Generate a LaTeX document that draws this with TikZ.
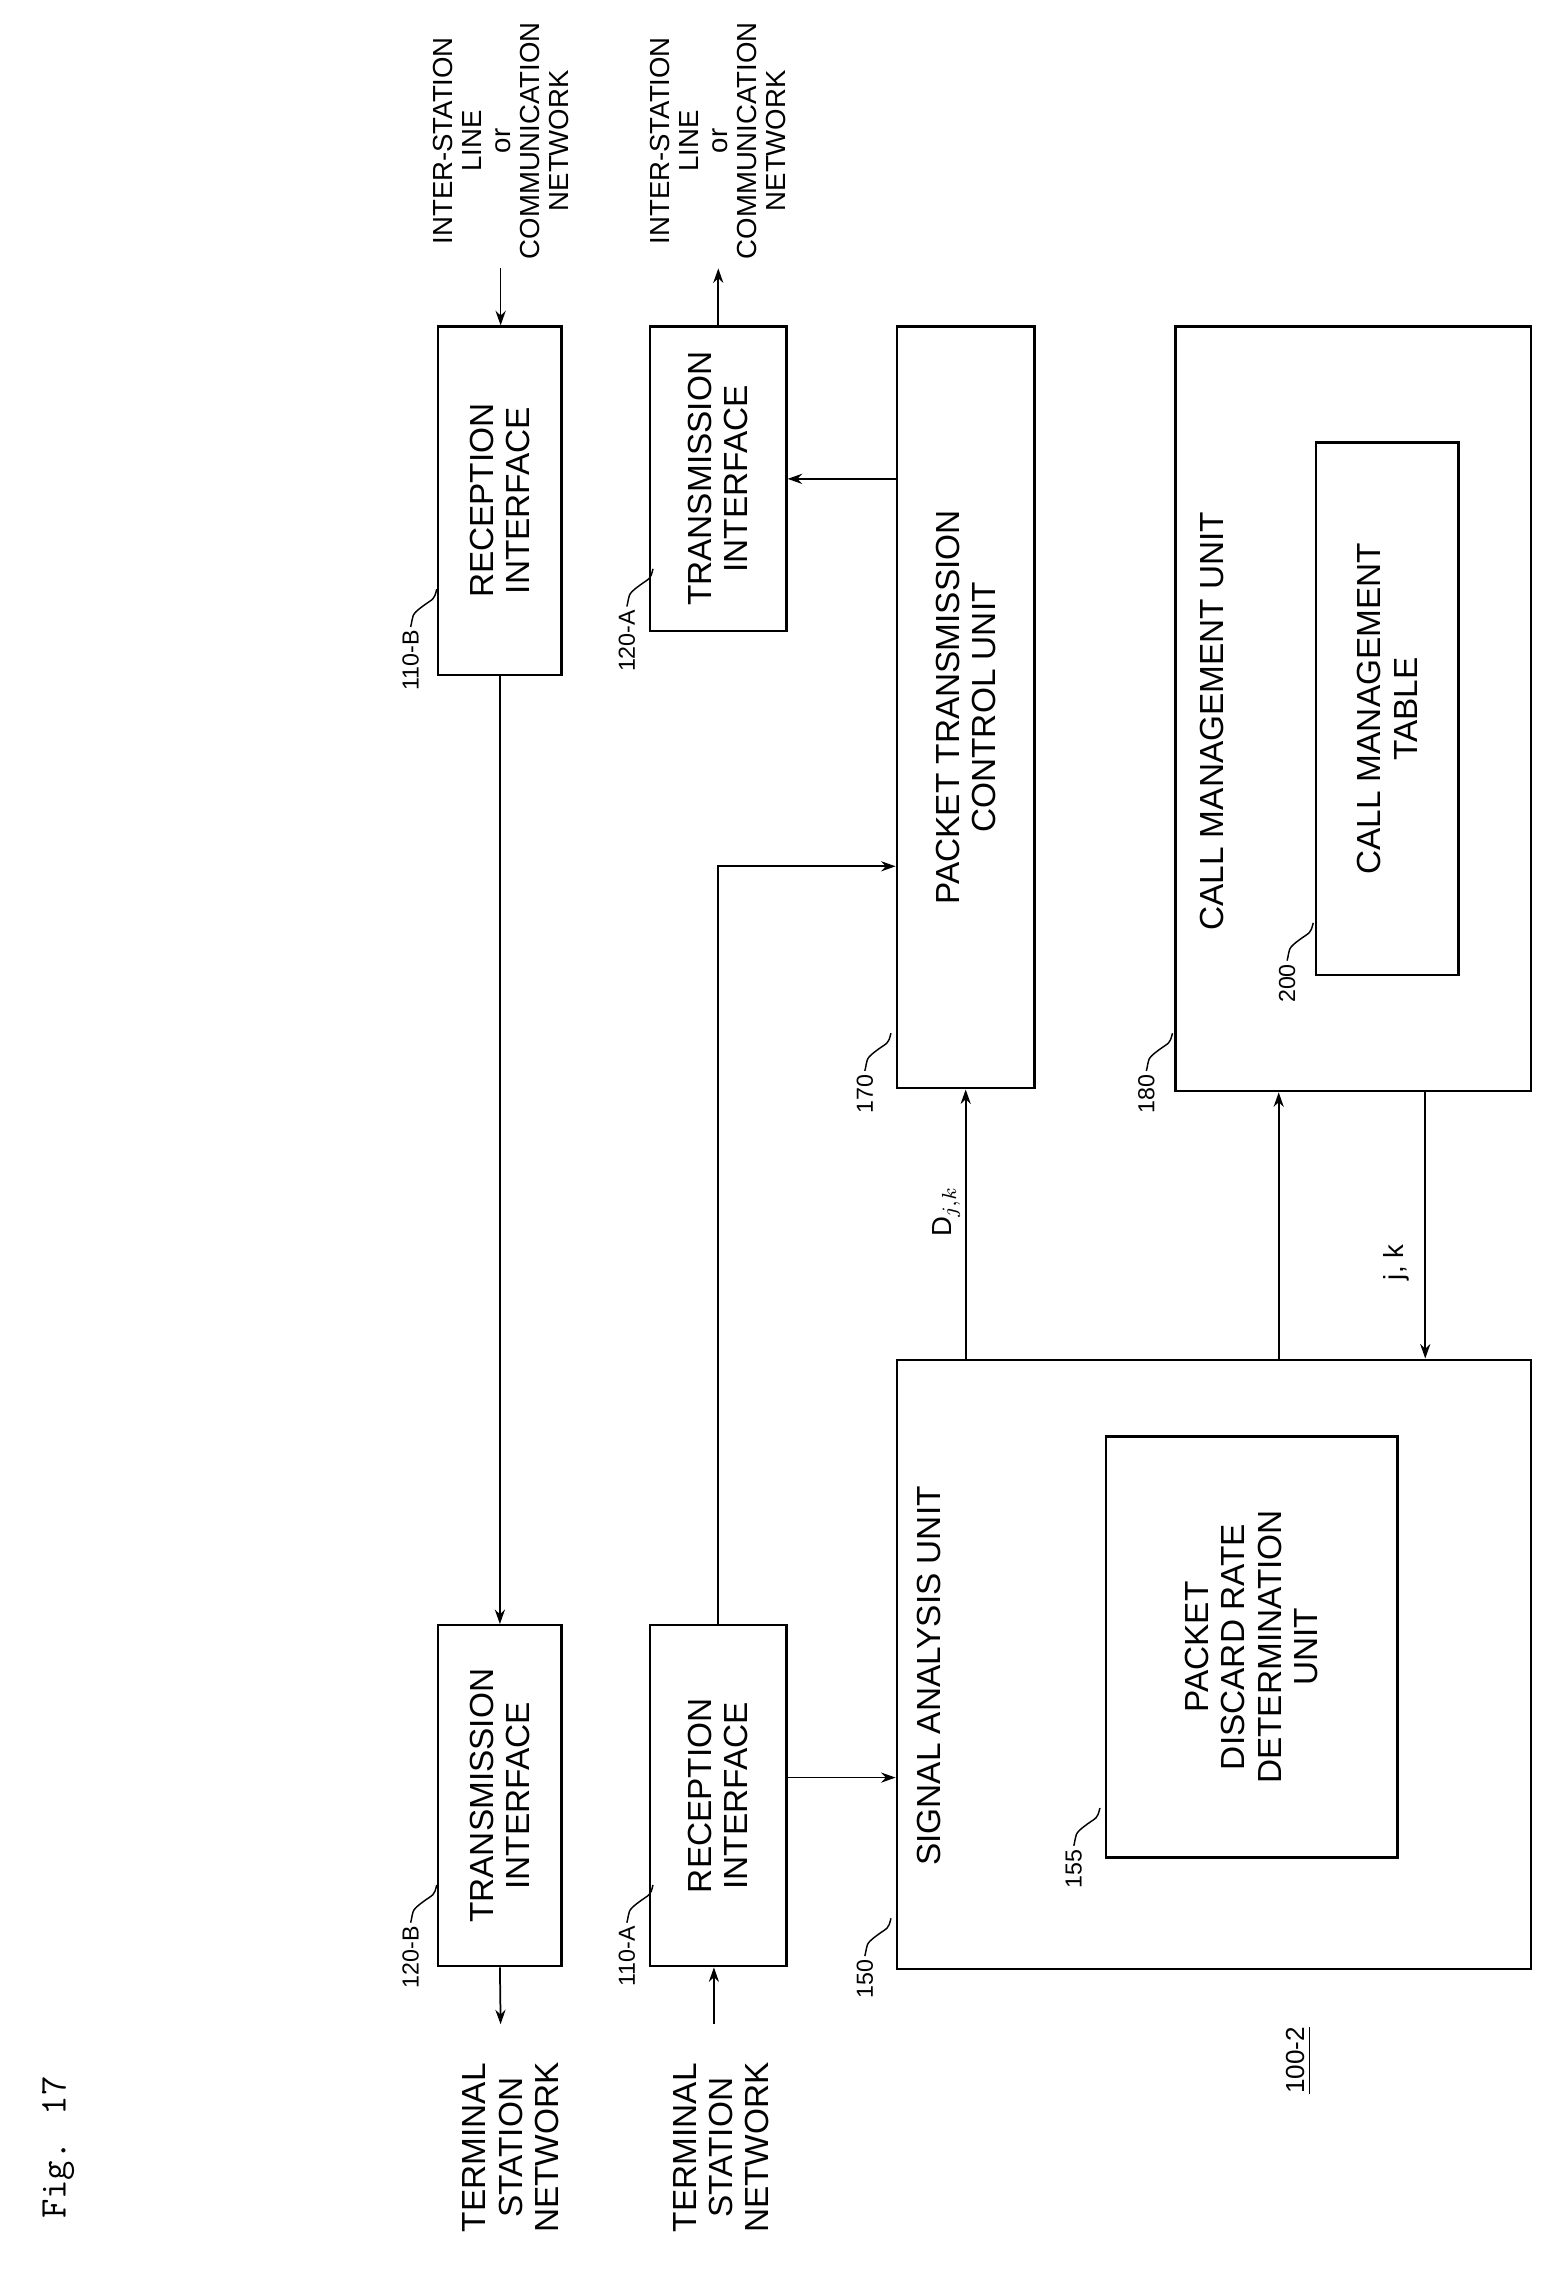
\documentclass[tikz,border=0pt]{standalone}
\usepackage{fontspec}
\setmainfont{Liberation Sans}
\usetikzlibrary{arrows.meta,calc}
\begin{document}
\begin{tikzpicture}[x=0.5pt,y=-0.5pt,
  box/.style={draw,line width=0.8pt,inner sep=0pt},
  txt/.style={rotate=90,align=center,font=\fontsize{11.5}{12.5}\selectfont},
  small/.style={rotate=90,align=center,font=\fontsize{9.5}{10}\selectfont},
  lab/.style={rotate=90,font=\fontsize{8}{9}\selectfont,anchor=east,inner sep=1pt},
  arr/.style={line width=0.6pt,-{Stealth[length=5pt,width=3.5pt]}},
  lead/.style={line width=0.5pt}]
\useasboundingbox (0,0) rectangle (1076,1574);
% boxes
\node[box,minimum width=42.5pt,minimum height=117.5pt] (t120B) at (344.5,1237.5) {};
\node[txt] at (t120B) {TRANSMISSION\\INTERFACE};
\node[box,minimum width=47pt,minimum height=117.5pt] (r110A) at (495,1237.5) {};
\node[txt] at (r110A) {RECEPTION\\INTERFACE};
\node[box,minimum width=218.5pt,minimum height=210pt] (s150) at (836.5,1147) {};
\node[txt] (s150t) at (640,1155) {SIGNAL ANALYSIS UNIT};
\node[box,minimum width=100.5pt,minimum height=145pt] (p155) at (862.5,1135) {};
\node[txt] at (p155) {PACKET\\DISCARD RATE\\DETERMINATION\\UNIT};
\node[box,minimum width=42.5pt,minimum height=120pt] (r110B) at (344.5,345) {};
\node[txt] at (r110B) {RECEPTION\\INTERFACE};
\node[box,minimum width=47pt,minimum height=105pt] (t120A) at (495,330) {};
\node[txt] at (t120A) {TRANSMISSION\\INTERFACE};
\node[box,minimum width=47.5pt,minimum height=262.5pt] (c170) at (665.5,487.5) {};
\node[txt] at (c170) {PACKET TRANSMISSION\\CONTROL UNIT};
\node[box,minimum width=122.5pt,minimum height=263.5pt] (m180) at (932.5,488.5) {};
\node[txt] (m180t) at (835,497) {CALL MANAGEMENT UNIT};
\node[box,minimum width=49pt,minimum height=183.5pt] (t200) at (956,488.5) {};
\node[txt] at (t200) {CALL MANAGEMENT\\TABLE};
% external texts
\node[txt] (tn1) at (352,1480) {TERMINAL\\STATION\\NETWORK};
\node[txt] (tn2) at (497,1480) {TERMINAL\\STATION\\NETWORK};
\node[small] (in1) at (345,97) {INTER-STATION\\LINE\\or\\COMMUNICATION\\NETWORK};
\node[small] (in2) at (495,97) {INTER-STATION\\LINE\\or\\COMMUNICATION\\NETWORK};
\coordinate (term1) at (345,1395);
\coordinate (term2) at (492,1395);
\coordinate (inter1) at (345,185);
\coordinate (inter2) at (495,185);
% connectors
\draw[arr] (r110B.south) -- (t120B.north);
\draw[arr] (t120B.south) -- (term1);
\draw[arr] (term2) -- (r110A.south -| term2);
\draw[arr] (inter1) -- (r110B.north -| inter1);
\draw[arr] (t120A.north) -- (inter2);
\draw[arr] (r110A.east |- 0,1225) -- (s150.west |- 0,1225);
\draw[arr] (r110A.north) |- (c170.west |- 0,597);
\draw[arr] (c170.west |- 0,330) -- (t120A.east |- 0,330);
\draw[arr] (s150.north -| c170) -- (c170.south);
\draw[arr] ($(s150.north west)+(264,0)$) -- ($(m180.south west)+(72,0)$);
\draw[arr] ($(m180.south west)+(173,0)$) -- ($(s150.north west)+(365,0)$);
\node[small] (dl) at (652,835) {D$_{j,k}$};
\node[small] (jl) at (962,870) {j, k};
% reference labels
\foreach \t/\x/\y/\n in {120-B/283/1325/a,110-A/432/1325/b,150/596/1348/c,155/740/1272/d,110-B/283/432/e,120-A/432/418/f,170/596/738/g,180/790/738/h,200/887/662/i}{
  \node[lab] (L\n) at (\x,\y) {\t};
  \draw[lead] (L\n.east) .. controls +(2,-8) and +(-8,6) .. +(8,-14) .. controls +(8,-6) and +(-2,8) .. +(18,-26);
}
\node[rotate=90,font=\ttfamily\fontsize{13}{14}\selectfont] (fig) at (40,1480) {Fig. 17};
\node[rotate=90,font=\fontsize{9}{10}\selectfont] (n1002) at (895,1420) {\underline{100-2}};
\end{tikzpicture}
\end{document}
